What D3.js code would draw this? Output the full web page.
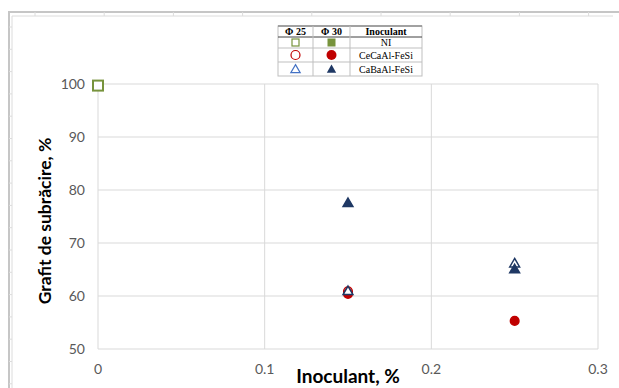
<!DOCTYPE html>
<html>
<head>
<meta charset="utf-8">
<script src="https://cdn.jsdelivr.net/npm/d3@7"></script>
<style>
  body { margin: 0; background: #fff; }
  svg { display: block; }
</style>
</head>
<body>
<div id="chart"></div>
<script>
// Chart size
var width  = 619;
var height = 388;

// Data
var xTicks = [0, 0.1, 0.2, 0.3];
var yTicks = [50, 60, 70, 80, 90, 100];

var niPhi25      = [[0, 99.7]];
var ceCaPhi25    = [[0.15, 60.9]];
var ceCaPhi30    = [[0.15, 60.4], [0.25, 55.3]];
var caBaPhi25    = [[0.15, 61.0], [0.25, 66.2]];
var caBaPhi30    = [[0.15, 77.6], [0.25, 65.1]];

var legendHeader = ["Φ 25", "Φ 30", "Inoculant"];
var legendNames  = ["NI", "CeCaAl-FeSi", "CaBaAl-FeSi"];

var green = "#77933c", red = "#c00000", navy = "#1f3864", blue = "#4472c4";
var font = "Lato, sans-serif";

var svg = d3.select("#chart").append("svg")
    .attr("width", width)
    .attr("height", height);

// Sheet frame (ruler lines of the surrounding window)
var frame = svg.append("g");
frame.append("line").attr("x1", 8).attr("x2", width).attr("y1", 12).attr("y2", 12)
    .attr("stroke", "#c6c6c6").attr("stroke-width", 2);
frame.append("line").attr("x1", 9).attr("x2", 9).attr("y1", 12).attr("y2", height)
    .attr("stroke", "#c6c6c6").attr("stroke-width", 2);
frame.append("line").attr("x1", 12).attr("x2", width - 6).attr("y1", 16).attr("y2", 16)
    .attr("stroke", "#dcdcdc");
frame.append("line").attr("x1", 12).attr("x2", 12).attr("y1", 16).attr("y2", height)
    .attr("stroke", "#dcdcdc");
d3.range(35, width - 10, 69.2).forEach(function(x) {
    frame.append("line").attr("x1", x).attr("x2", x).attr("y1", 12).attr("y2", 16)
        .attr("stroke", "#dcdcdc");
});
d3.range(27, height, 22.3).forEach(function(y) {
    frame.append("line").attr("x1", 9).attr("x2", 12).attr("y1", y).attr("y2", y)
        .attr("stroke", "#dcdcdc");
});

// Scales
var x = d3.scaleLinear().domain([0, 0.3]).range([98, 598]);
var y = d3.scaleLinear().domain([50, 100]).range([349, 84]);

// Grid
svg.append("g")
    .selectAll("line")
    .data(yTicks)
    .enter()
    .append("line")
    .attr("x1", x(0)).attr("x2", x(0.3))
    .attr("y1", d => y(d)).attr("y2", d => y(d))
    .attr("stroke", "#d9d9d9");

svg.append("g")
    .selectAll("line")
    .data(xTicks)
    .enter()
    .append("line")
    .attr("x1", d => x(d)).attr("x2", d => x(d))
    .attr("y1", y(100)).attr("y2", y(50))
    .attr("stroke", "#d9d9d9");

// Tick labels
svg.append("g")
    .selectAll("text")
    .data(yTicks)
    .enter()
    .append("text")
    .attr("x", 85)
    .attr("y", d => y(d) + 5)
    .attr("text-anchor", "end")
    .attr("font-family", font)
    .attr("font-size", "14px")
    .attr("fill", "#595959")
    .text(d => d);

svg.append("g")
    .selectAll("text")
    .data(xTicks)
    .enter()
    .append("text")
    .attr("x", d => x(d))
    .attr("y", 374)
    .attr("text-anchor", "middle")
    .attr("font-family", font)
    .attr("font-size", "14px")
    .attr("fill", "#595959")
    .text(d => d);

// Axis titles
svg.append("text")
    .attr("x", 348).attr("y", 383)
    .attr("text-anchor", "middle")
    .attr("font-family", font)
    .attr("font-weight", "bold")
    .attr("font-size", "19px")
    .attr("fill", "#000")
    .text("Inoculant, %");

svg.append("text")
    .attr("transform", "translate(51,221)rotate(-90)")
    .attr("text-anchor", "middle")
    .attr("font-family", font)
    .attr("font-weight", "bold")
    .attr("font-size", "17.5px")
    .attr("fill", "#000")
    .text("Grafit de subrăcire, %");

// Marker helpers
var tri = d3.symbol().type(d3.symbolTriangle).size(42);

function squares(g, data, filled, color) {
    g.selectAll(null).data(data).enter().append("rect")
        .attr("x", d => x(d[0]) - 5).attr("y", d => y(d[1]) - 5)
        .attr("width", 10).attr("height", 10)
        .attr("fill", filled ? color : "#fff")
        .attr("stroke", color).attr("stroke-width", 2);
}
function circles(g, data, filled, color) {
    g.selectAll(null).data(data).enter().append("circle")
        .attr("cx", d => x(d[0])).attr("cy", d => y(d[1]))
        .attr("r", 4.3)
        .attr("fill", filled ? color : "#fff")
        .attr("stroke", color).attr("stroke-width", 1.5);
}
function triangles(g, data, filled, color) {
    g.selectAll(null).data(data).enter().append("path")
        .attr("transform", d => "translate(" + x(d[0]) + "," + (y(d[1]) + 1) + ")")
        .attr("d", tri)
        .attr("fill", filled ? color : "#fff")
        .attr("stroke", color).attr("stroke-width", 1.5);
}

var marks = svg.append("g");
squares(marks, niPhi25, false, green);
circles(marks, ceCaPhi25, false, red);
circles(marks, ceCaPhi30, true, red);
triangles(marks, caBaPhi25, false, navy);
triangles(marks, caBaPhi30, true, navy);

// Legend table
var lg = svg.append("g").attr("transform", "translate(278,26)");
var colX = [0, 35, 72, 144];
var rowY = [0, 11, 22, 36, 50];

lg.append("rect").attr("x", 0).attr("y", 0).attr("width", colX[3]).attr("height", rowY[4])
    .attr("fill", "#fff").attr("stroke", "#bfbfbf");
lg.append("line").attr("x1", 0).attr("x2", colX[3]).attr("y1", 0).attr("y2", 0)
    .attr("stroke", "#8c8c8c").attr("stroke-width", 1.5);
rowY.slice(1, 4).forEach(function(ry, i) {
    lg.append("line").attr("x1", 0).attr("x2", colX[3]).attr("y1", ry).attr("y2", ry)
        .attr("stroke", i === 0 ? "#404040" : "#bfbfbf");
});
colX.slice(1, 3).forEach(function(cx) {
    lg.append("line").attr("x1", cx).attr("x2", cx).attr("y1", 0).attr("y2", rowY[4])
        .attr("stroke", "#bfbfbf");
});

lg.selectAll(null).data(legendHeader).enter().append("text")
    .attr("x", (d, i) => (colX[i] + colX[i + 1]) / 2)
    .attr("y", 9)
    .attr("text-anchor", "middle")
    .attr("font-family", "Liberation Serif, serif")
    .attr("font-weight", "bold")
    .attr("font-size", "10px")
    .text(d => d);

lg.selectAll(null).data(legendNames).enter().append("text")
    .attr("x", (colX[2] + colX[3]) / 2)
    .attr("y", (d, i) => (rowY[i + 1] + rowY[i + 2]) / 2 + 3.5)
    .attr("text-anchor", "middle")
    .attr("font-family", "Liberation Serif, serif")
    .attr("font-size", "10px")
    .text(d => d);

var c1 = (colX[0] + colX[1]) / 2, c2 = (colX[1] + colX[2]) / 2;
var r1 = (rowY[1] + rowY[2]) / 2, r2 = (rowY[2] + rowY[3]) / 2, r3 = (rowY[3] + rowY[4]) / 2;
lg.append("rect").attr("x", c1 - 3.5).attr("y", r1 - 3.5).attr("width", 7).attr("height", 7)
    .attr("fill", "#fff").attr("stroke", green).attr("stroke-width", 1.2);
lg.append("rect").attr("x", c2 - 4).attr("y", r1 - 4).attr("width", 8).attr("height", 8)
    .attr("fill", green);
lg.append("circle").attr("cx", c1).attr("cy", r2).attr("r", 4.5)
    .attr("fill", "#fff").attr("stroke", red).attr("stroke-width", 1.2);
lg.append("circle").attr("cx", c2).attr("cy", r2).attr("r", 5)
    .attr("fill", red);
var ltri = d3.symbol().type(d3.symbolTriangle).size(38);
lg.append("path").attr("transform", "translate(" + c1 + "," + (r3 + 1) + ")").attr("d", ltri)
    .attr("fill", "#fff").attr("stroke", blue).attr("stroke-width", 1.2);
lg.append("path").attr("transform", "translate(" + c2 + "," + (r3 + 1) + ")").attr("d", ltri)
    .attr("fill", navy);
</script>
</body>
</html>
